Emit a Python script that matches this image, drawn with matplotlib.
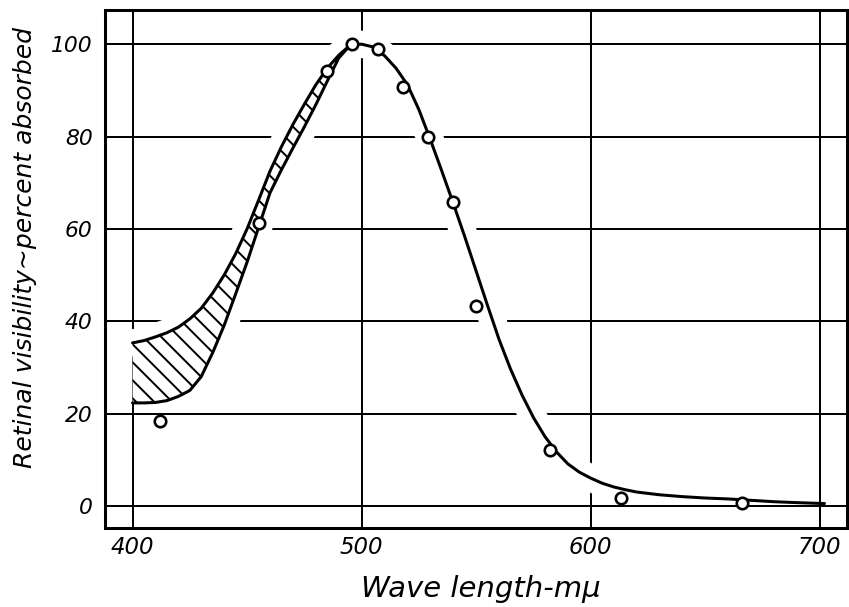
import numpy as np
import matplotlib
matplotlib.use('Agg')
import matplotlib.pyplot as plt
from matplotlib.collections import LineCollection

# open circles: measured absorption
wl_obs = [412, 455, 485, 496, 507, 518, 529, 540, 550, 582, 613, 666]
vis_obs = [18.4, 61.3, 94.2, 100.0, 98.9, 90.7, 79.9, 65.8, 43.3, 12.1, 1.8, 0.7]

# visibility curve, peak towards the red end
wl_curve = [495, 500, 505, 510, 515, 520, 525, 530, 535, 540, 545, 550, 555,
            560, 565, 570, 575, 580, 585, 590, 595, 600, 605, 610, 615, 620,
            630, 640, 650, 660, 670, 680, 690, 702]
vis_curve = [99.8, 100.0, 99.4, 97.5, 94.8, 91.2, 85.8, 79.3, 72.5, 65.5, 58.3,
             50.8, 43.3, 36.0, 29.6, 24.0, 19.1, 15.0, 11.7, 9.1, 7.3, 6.0,
             4.9, 4.1, 3.5, 3.0, 2.4, 2.0, 1.7, 1.5, 1.2, 0.9, 0.7, 0.5]

# hatched band at the blue end
wl_band = [400, 405, 410, 415, 420, 425, 430, 435, 440, 445, 450, 455, 460,
           465, 470, 475, 480, 485, 490, 495]
band_hi = [35.3, 35.8, 36.6, 37.5, 38.7, 40.5, 42.8, 46.1, 50.0, 54.6, 60.0,
           66.2, 72.5, 77.8, 82.6, 87.0, 91.2, 94.8, 97.6, 99.8]
band_lo = [22.3, 22.3, 22.4, 22.8, 23.7, 25.0, 28.0, 33.2, 39.1, 45.9, 52.8,
           60.3, 67.8, 72.8, 77.5, 82.1, 86.9, 92.0, 97.0, 99.8]

xticks = [400, 500, 600, 700]
yticks = [0, 20, 40, 60, 80, 100]

plt.rcParams['font.family'] = 'DejaVu Sans'

DPI = 75
fig = plt.figure(figsize=(849 / DPI, 607 / DPI), dpi=DPI)
ax = fig.add_axes([0.1237, 0.1301, 0.8739, 0.8534])

ax.set_xlim(388, 711.8)
ax.set_ylim(-4.8, 107.4)
ax.set_xticks(xticks)
ax.set_yticks(yticks)
ax.grid(True, color='black', lw=1.9)
ax.set_axisbelow(True)

# white strokes under the curves -> breaks in the grid like the drawing
gap = dict(color='white', lw=26, solid_capstyle='round', zorder=1.5)
wc = np.array(wl_curve)
vc = np.array(vis_curve)
ax.plot(wc[vc >= 4], vc[vc >= 4], **gap)
ax.plot(wl_band, band_hi, **gap)
wb = np.array(wl_band)
lo = np.array(band_lo)
ax.plot(wb[lo >= 30], lo[lo >= 30], **gap)

band = ax.fill_between(wl_band, band_lo, band_hi, facecolor='white',
                       linewidth=0, zorder=2)

# hand-drawn style hatching: 45 deg on paper, ~18 px apart
px_x = ax.transData.transform([(1, 0)])[0][0] - ax.transData.transform([(0, 0)])[0][0]
px_y = ax.transData.transform([(0, 1)])[0][1] - ax.transData.transform([(0, 0)])[0][1]
slope = px_x / px_y
step = 18 / px_y
segs = []
for y0 in np.arange(21.9, 160, step):
    segs.append([(395, y0), (505, y0 - slope * 110)])
hatch = LineCollection(segs, colors='black', linewidths=1.9, zorder=2.2)
ax.add_collection(hatch)
hatch.set_clip_path(band.get_paths()[0], transform=ax.transData)

ax.plot(wl_band, band_hi, color='black', lw=2.9, zorder=3, solid_capstyle='round')
ax.plot(wl_band, band_lo, color='black', lw=2.9, zorder=3, solid_capstyle='round')
ax.plot(wl_curve, vis_curve, color='black', lw=2.9, zorder=3, solid_capstyle='round')

ax.plot(wl_obs, vis_obs, ls='none', marker='o', ms=11, mfc='white', mec='black',
        mew=2.5, zorder=4)

for s in ax.spines.values():
    s.set_linewidth(2.9)

ax.tick_params(axis='both', length=0)
ax.tick_params(axis='x', labelsize=22, pad=8)
ax.tick_params(axis='y', labelsize=21, pad=12)
for lab in ax.get_xticklabels() + ax.get_yticklabels():
    lab.set_fontstyle('italic')

fig.text(25 / 849, 1 - 248 / 607, 'Retinal visibility~percent absorbed',
         rotation=90, ha='center', va='center', fontsize=24, style='italic')
fig.text(481 / 849, 10 / 607, 'Wave length-m\u03bc', ha='center', va='baseline',
         fontsize=28, style='italic')

fig.savefig('out.png', dpi=DPI)
